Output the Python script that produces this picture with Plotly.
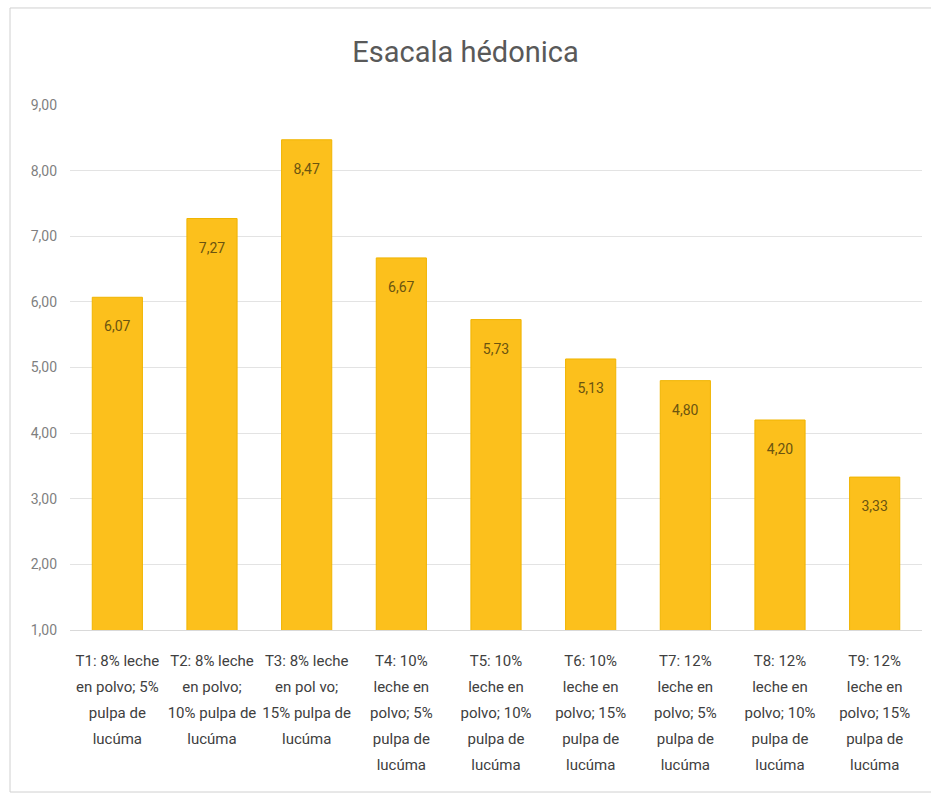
import plotly.graph_objects as go

# Tratamientos (porcentaje de leche en polvo y pulpa de lucúma), una lista por línea
category_lines = [
    ["T1: 8% leche", "en polvo; 5%", "pulpa de", "lucúma"],
    ["T2: 8% leche", "en polvo;", "10% pulpa de", "lucúma"],
    ["T3: 8% leche", "en pol vo;", "15% pulpa de", "lucúma"],
    ["T4: 10%", "leche en", "polvo; 5%", "pulpa de", "lucúma"],
    ["T5: 10%", "leche en", "polvo; 10%", "pulpa de", "lucúma"],
    ["T6: 10%", "leche en", "polvo; 15%", "pulpa de", "lucúma"],
    ["T7: 12%", "leche en", "polvo; 5%", "pulpa de", "lucúma"],
    ["T8: 12%", "leche en", "polvo; 10%", "pulpa de", "lucúma"],
    ["T9: 12%", "leche en", "polvo; 15%", "pulpa de", "lucúma"],
]
scores = [6.07, 7.27, 8.47, 6.67, 5.73, 5.13, 4.80, 4.20, 3.33]
y_ticks = [1, 2, 3, 4, 5, 6, 7, 8, 9]

FONT = "Roboto, Liberation Sans, sans-serif"

# Tick labels: line spacing comes from the tick font size (20 px),
# while the glyphs themselves are drawn smaller through an inline span.
categories = [
    "<br>".join('<span style="font-size:15px">%s</span>' % ln for ln in lines)
    for lines in category_lines
]

fig = go.Figure(
    go.Bar(
        x=categories,
        y=scores,
        marker=dict(color="#FCC01C", line=dict(color="#F0B400", width=1)),
        # a blank first line pushes the value label down from the bar top
        texttemplate="&nbsp;<br>%{y:.2f}",
        textposition="inside",
        insidetextanchor="end",
        textfont=dict(family=FONT, size=14, color="#6B5410"),
        hoverinfo="y",
    )
)

fig.update_layout(
    width=931,
    height=794,
    separators=",.",
    paper_bgcolor="white",
    plot_bgcolor="white",
    margin=dict(l=70, r=9, t=105, b=164),
    bargap=0.47,
    showlegend=False,
    title=dict(
        text="Esacala hédonica",
        x=0.5,
        xanchor="center",
        y=1 - 52 / 794,
        yanchor="middle",
        font=dict(family=FONT, size=29, color="#595959"),
    ),
    font=dict(family=FONT, color="#595959"),
    xaxis=dict(
        tickfont=dict(family=FONT, size=20, color="#404040"),
        showgrid=False,
        showline=True,
        linecolor="#D9D9D9",
        linewidth=1,
        ticks="",
        ticklabelstandoff=11,
    ),
    yaxis=dict(
        range=[1, 9],
        tickvals=y_ticks,
        tickformat=".2f",
        tickfont=dict(family=FONT, size=14, color="#7F7F7F"),
        showgrid=True,
        gridcolor="#E3E3E3",
        gridwidth=1,
        zeroline=False,
        showline=False,
        ticks="",
        ticklabelstandoff=12,
    ),
    shapes=[
        dict(
            type="rect",
            xref="paper",
            yref="paper",
            x0=-0.0704,
            x1=1.02,
            y0=-0.3086,
            y1=1.1848,
            line=dict(color="#D0D0D0", width=1),
            fillcolor="rgba(0,0,0,0)",
            layer="below",
        )
    ],
)

fig.write_html("out.html")
